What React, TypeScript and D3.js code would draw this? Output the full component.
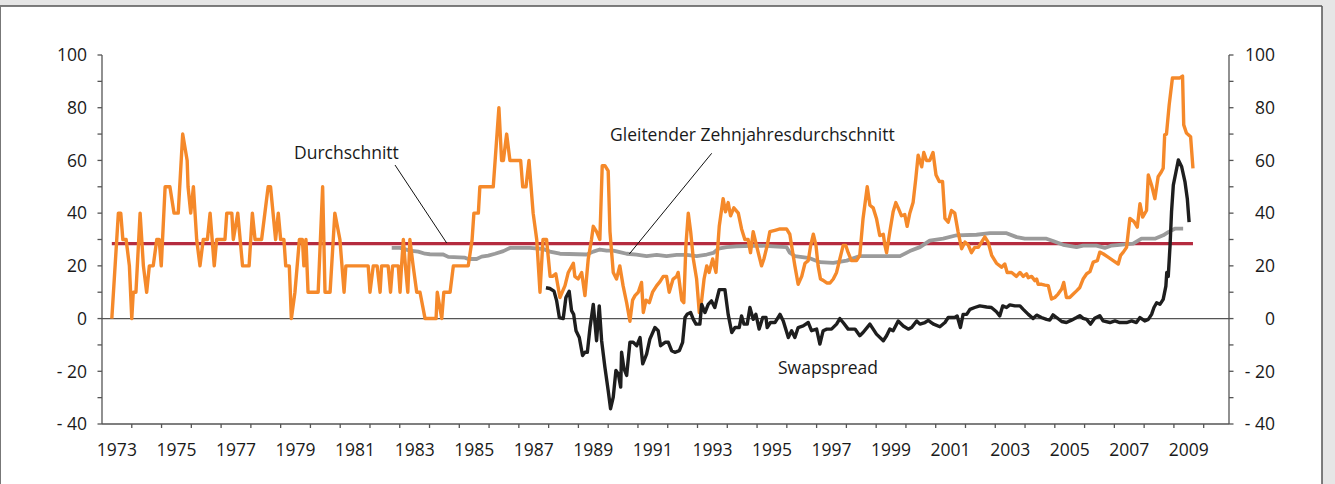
import * as d3 from 'd3';

// Orange series: [decimal year, value]
const creditSpread: [number, number][] = [
  [1973.33, 0], [1973.55, 40], [1973.63, 40], [1973.7, 30], [1973.81, 30], [1973.92, 20], [1974.0, 0],
  [1974.05, 10], [1974.14, 10], [1974.28, 40], [1974.39, 20], [1974.5, 10], [1974.59, 20], [1974.72, 20],
  [1974.84, 30], [1974.92, 30], [1974.99, 20], [1975.12, 50], [1975.28, 50], [1975.42, 40], [1975.56, 40],
  [1975.71, 70], [1975.86, 60], [1975.89, 50], [1975.98, 40], [1976.07, 50], [1976.18, 30], [1976.29, 20],
  [1976.4, 30], [1976.54, 30], [1976.63, 40], [1976.77, 20], [1976.85, 30], [1977.13, 30], [1977.19, 40],
  [1977.36, 40], [1977.41, 30], [1977.56, 40], [1977.72, 20], [1977.94, 20], [1978.05, 40], [1978.14, 30],
  [1978.36, 30], [1978.58, 50], [1978.66, 50], [1978.83, 30], [1978.92, 40], [1979.0, 30], [1979.11, 30],
  [1979.17, 20], [1979.29, 20], [1979.36, 0], [1979.48, 10], [1979.63, 30], [1979.73, 30], [1979.78, 20],
  [1979.85, 30], [1979.92, 10], [1980.26, 10], [1980.41, 50], [1980.49, 10], [1980.66, 10], [1980.82, 40],
  [1980.99, 30], [1981.13, 10], [1981.19, 20], [1981.94, 20], [1982.0, 10], [1982.11, 20], [1982.24, 20],
  [1982.34, 10], [1982.39, 20], [1982.61, 20], [1982.69, 10], [1982.76, 20], [1982.95, 20], [1983.01, 10],
  [1983.06, 20], [1983.12, 30], [1983.19, 20], [1983.27, 10], [1983.34, 30], [1983.45, 20], [1983.57, 10],
  [1983.68, 10], [1983.85, 0], [1984.22, 0], [1984.26, 10], [1984.41, 0], [1984.48, 10], [1984.69, 10],
  [1984.8, 20], [1985.3, 20], [1985.43, 30], [1985.49, 40], [1985.64, 40], [1985.69, 50], [1986.14, 50],
  [1986.33, 80], [1986.42, 60], [1986.48, 60], [1986.59, 70], [1986.7, 60], [1987.06, 60], [1987.13, 50],
  [1987.24, 50], [1987.34, 60], [1987.48, 40], [1987.6, 30], [1987.71, 10], [1987.81, 30], [1987.93, 30],
  [1988.05, 16], [1988.13, 16], [1988.24, 17], [1988.38, 8], [1988.55, 12.5], [1988.66, 17.5], [1988.83, 21],
  [1988.88, 16], [1988.99, 15], [1989.11, 17.5], [1989.22, 8.7], [1989.33, 22.6], [1989.44, 30], [1989.5, 35],
  [1989.61, 33], [1989.72, 30], [1989.8, 58], [1989.89, 58], [1990.0, 56], [1990.06, 33], [1990.17, 17.5],
  [1990.28, 15], [1990.39, 20], [1990.5, 12.5], [1990.62, 6], [1990.73, -1], [1990.82, 7], [1990.9, 8.7],
  [1991.01, 10], [1991.12, 13.7], [1991.18, 2.3], [1991.27, 7], [1991.38, 6], [1991.49, 10], [1991.63, 12.5],
  [1991.74, 14], [1991.85, 16], [1991.96, 16], [1992.05, 10], [1992.18, 15], [1992.3, 16], [1992.35, 17.5],
  [1992.47, 7], [1992.54, 6], [1992.61, 27.7], [1992.69, 40], [1992.77, 33], [1992.86, 22.6], [1992.97, 15],
  [1993.06, 2.3], [1993.14, 7], [1993.22, 15], [1993.31, 20], [1993.39, 17.5], [1993.51, 22.6], [1993.62, 17.5],
  [1993.73, 35], [1993.86, 45.5], [1993.94, 40.5], [1994.03, 44], [1994.11, 39], [1994.22, 42], [1994.37, 40],
  [1994.48, 34], [1994.59, 30], [1994.7, 30], [1994.78, 25], [1994.87, 33], [1995.04, 25], [1995.15, 20],
  [1995.23, 22.6], [1995.34, 27.7], [1995.43, 33], [1995.6, 33.5], [1995.77, 34], [1995.99, 34], [1996.1, 32],
  [1996.16, 27.7], [1996.27, 20], [1996.38, 13], [1996.5, 16], [1996.61, 21], [1996.72, 22], [1996.8, 27.7],
  [1996.89, 32], [1996.98, 27.7], [1997.05, 20], [1997.13, 15], [1997.22, 14.5], [1997.34, 13.5], [1997.45, 13.5],
  [1997.56, 15], [1997.67, 17.5], [1997.78, 22.6], [1997.89, 27.7], [1997.98, 27.7], [1998.06, 25], [1998.17, 22],
  [1998.34, 22], [1998.45, 24], [1998.56, 38], [1998.7, 50], [1998.79, 43], [1998.9, 42], [1999.01, 38],
  [1999.12, 31.5], [1999.24, 32], [1999.29, 28], [1999.35, 25], [1999.46, 33], [1999.57, 40.5], [1999.66, 44],
  [1999.74, 42], [1999.85, 39], [1999.96, 39.5], [2000.04, 35], [2000.13, 40], [2000.24, 44], [2000.33, 53],
  [2000.41, 62], [2000.53, 57.6], [2000.6, 63], [2000.69, 60], [2000.8, 60], [2000.91, 63], [2001.01, 54.5],
  [2001.12, 52], [2001.23, 52], [2001.31, 38], [2001.42, 36.6], [2001.53, 41], [2001.64, 40], [2001.75, 33],
  [2001.87, 26.5], [2001.98, 29], [2002.09, 28], [2002.2, 25], [2002.31, 27], [2002.43, 27], [2002.54, 29],
  [2002.65, 31], [2002.76, 29], [2002.88, 24], [2003.04, 21], [2003.21, 19.5], [2003.32, 20.7], [2003.4, 17.5],
  [2003.55, 17.5], [2003.71, 16], [2003.83, 17.5], [2003.94, 16], [2004.05, 17], [2004.11, 15.5], [2004.22, 16],
  [2004.33, 14.4], [2004.39, 15], [2004.44, 13], [2004.56, 13], [2004.67, 12.7], [2004.78, 12.5], [2004.89, 7.4],
  [2005.0, 8], [2005.11, 9.3], [2005.23, 11.2], [2005.3, 13.7], [2005.39, 8], [2005.5, 8], [2005.62, 9.3],
  [2005.73, 10.5], [2005.84, 11.8], [2005.95, 15], [2006.07, 17], [2006.18, 17.8], [2006.29, 21.4], [2006.43, 22],
  [2006.51, 25.2], [2006.62, 24.6], [2006.79, 23.3], [2006.96, 22], [2007.13, 20.7], [2007.21, 24], [2007.3, 25.2],
  [2007.41, 27], [2007.52, 38], [2007.66, 36.8], [2007.77, 34.7], [2007.86, 43.6], [2007.95, 38.5], [2008.08, 41],
  [2008.14, 54.5], [2008.25, 50.6], [2008.36, 45.5], [2008.47, 53.8], [2008.58, 55.7], [2008.64, 57], [2008.69, 69.7],
  [2008.75, 70], [2008.84, 81], [2008.95, 91.3], [2009.09, 91.3], [2009.2, 91.3], [2009.29, 92], [2009.33, 73.5],
  [2009.42, 70.4], [2009.56, 69], [2009.64, 57],
];

// Swapspread (black)
const swapSpread: [number, number][] = [
  [1987.91, 11.7], [1988.04, 11.4], [1988.18, 10.4], [1988.27, 6.7], [1988.36, 0.4], [1988.49, 0], [1988.58, 8],
  [1988.69, 10.4], [1988.77, 3], [1988.84, 1.6], [1988.92, -4.6], [1989.03, -7.2], [1989.14, -14], [1989.22, -12.8],
  [1989.3, -12.8], [1989.39, -3.4], [1989.5, 5.4], [1989.61, -8.4], [1989.7, 4.8], [1989.78, -8.4], [1989.89, -18.5],
  [1990.0, -27.3], [1990.08, -34.2], [1990.17, -29.8], [1990.26, -19.7], [1990.34, -21], [1990.42, -26], [1990.45, -12.8],
  [1990.53, -19], [1990.62, -21.6], [1990.73, -9], [1990.84, -9], [1990.96, -10.3], [1991.07, -7.2], [1991.16, -17.2],
  [1991.29, -13.5], [1991.4, -7.8], [1991.57, -3.4], [1991.68, -4.6], [1991.76, -10.3], [1991.91, -9], [1992.02, -9],
  [1992.13, -12.2], [1992.24, -12.8], [1992.39, -12.2], [1992.5, -9], [1992.58, 0.4], [1992.65, 1.6], [1992.77, 2.3],
  [1992.86, -0.3], [1992.95, -2.1], [1993.08, -2.1], [1993.14, 5.4], [1993.25, 2.3], [1993.36, 5.4], [1993.47, 6.7],
  [1993.58, 4.2], [1993.73, 11], [1993.92, 11], [1994.03, 1.6], [1994.15, -5.3], [1994.26, -3.4], [1994.4, -3.4],
  [1994.48, 1], [1994.56, -2.1], [1994.67, -2.1], [1994.76, 4.2], [1994.87, -0.3], [1994.96, 1.6], [1995.07, -4],
  [1995.19, 0.4], [1995.3, 0.4], [1995.34, -3.4], [1995.45, -1.5], [1995.6, -1.5], [1995.77, 1.6], [1995.88, -0.9],
  [1996.05, -7.2], [1996.16, -4.6], [1996.27, -7.2], [1996.38, -3.4], [1996.55, -2.8], [1996.72, -1.5], [1996.83, -4.6],
  [1997.0, -4], [1997.11, -9.7], [1997.22, -4.6], [1997.34, -4], [1997.5, -4], [1997.67, -2.1], [1997.78, 0],
  [1997.89, -1.5], [1998.06, -4], [1998.29, -4], [1998.45, -6.5], [1998.56, -5.3], [1998.79, -2.1], [1999.01, -5.9],
  [1999.24, -8.4], [1999.35, -6.5], [1999.46, -4], [1999.57, -4.6], [1999.74, -0.9], [1999.91, -2.8], [2000.08, -4],
  [2000.19, -3.4], [2000.36, -0.9], [2000.47, -2.1], [2000.64, -1.5], [2000.75, -0.7], [2000.91, -2], [2001.14, -3.1],
  [2001.31, -1.5], [2001.42, 0.4], [2001.64, 0.4], [2001.72, 1], [2001.83, -3.4], [2001.92, 1.6], [2002.04, 1.6],
  [2002.15, 3.5], [2002.31, 4.2], [2002.48, 4.8], [2002.71, 4.4], [2002.87, 4.2], [2003.04, 2.6], [2003.15, 1],
  [2003.25, 4.8], [2003.38, 4.2], [2003.49, 5.2], [2003.66, 4.8], [2003.83, 4.8], [2003.94, 3.5], [2004.11, 1.6],
  [2004.27, 0], [2004.39, 1.3], [2004.55, 0.4], [2004.72, -0.3], [2004.83, -0.6], [2004.94, 1.4], [2005.06, 0.4],
  [2005.23, -1.1], [2005.39, -1.5], [2005.56, -0.6], [2005.73, 0.4], [2005.84, 1.1], [2005.95, 0.1], [2006.07, -0.3],
  [2006.2, -2.1], [2006.34, 0.1], [2006.51, 1.1], [2006.62, -0.9], [2006.85, -1.5], [2007.02, -0.9], [2007.18, -1.5],
  [2007.41, -1.5], [2007.58, -0.9], [2007.74, -1.5], [2007.86, 0.4], [2008.02, -0.9], [2008.14, -0.3], [2008.25, 1.6],
  [2008.33, 4.2], [2008.42, 6], [2008.53, 5.4], [2008.64, 7.3], [2008.73, 12.3], [2008.76, 17.5], [2008.81, 16],
  [2008.87, 27.7], [2008.92, 40.5], [2008.98, 50.6], [2009.07, 55.7], [2009.15, 60.2], [2009.26, 57.6], [2009.37, 52],
  [2009.45, 45.5], [2009.51, 36.6],
];

// Gleitender Zehnjahresdurchschnitt (grey)
const movingAverage: [number, number][] = [
  [1982.73, 26.8], [1983.01, 26.8], [1983.34, 25.8], [1983.62, 25.4], [1983.85, 24.6], [1984.01, 24.4], [1984.46, 24.3],
  [1984.63, 23.4], [1985.19, 23.1], [1985.3, 22.6], [1985.58, 22.6], [1985.75, 23.5], [1985.97, 23.9], [1986.2, 24.6],
  [1986.48, 25.6], [1986.7, 26.8], [1987.37, 26.8], [1987.82, 26.4], [1988.04, 25.4], [1988.38, 24.6], [1989.28, 24.3],
  [1989.5, 25.4], [1989.72, 26.2], [1989.95, 25.8], [1990.17, 25.8], [1990.39, 25.2], [1990.62, 24.6], [1990.95, 24.3],
  [1991.29, 23.7], [1991.63, 24.2], [1991.96, 23.7], [1992.3, 24.2], [1992.63, 24.2], [1992.97, 23.7], [1993.31, 24.3],
  [1993.53, 24.9], [1993.7, 26.5], [1993.98, 27.1], [1994.31, 27.4], [1995.1, 27.7], [1995.54, 27.4], [1995.99, 27.1],
  [1996.1, 25], [1996.27, 23.7], [1996.77, 22.9], [1997.11, 21.4], [1997.56, 21.1], [1998.01, 22], [1998.45, 23.7],
  [1999.8, 23.7], [2000.13, 25.6], [2000.47, 27.1], [2000.8, 29.6], [2001.25, 30.3], [2001.7, 31.6], [2002.37, 31.8],
  [2002.82, 32.4], [2003.38, 32.4], [2003.72, 30.9], [2003.99, 30.3], [2004.72, 30.3], [2004.94, 29.4], [2005.28, 28],
  [2005.73, 27.1], [2005.95, 27.7], [2006.4, 27.7], [2006.68, 26.8], [2006.91, 27.7], [2007.18, 28], [2007.63, 28.4],
  [2007.91, 30.3], [2008.36, 30.3], [2008.64, 31.6], [2008.81, 32.8], [2009.03, 34.1], [2009.31, 34.1],
];

// Durchschnitt (red)
const overallAverage = 28.4;
const averageSpan = [1973.33, 2009.64];

const yTicksMajor = [-40, -20, 0, 20, 40, 60, 80, 100];
const yTicksMinor = [-30, -10, 10, 30, 50, 70, 90];
const yearLabels = d3.range(1973, 2010, 2);
const yearTicks = d3.range(1974, 2011);

const W = 1335;
const H = 484;
const FONT = "'Open Sans', sans-serif";
const TEXT = '#1a1a1a';
const AXIS = '#555';

export default function App() {
  const x = d3.scaleLinear().domain([1973, 2010.85]).range([102, 1229]);
  const y = d3.scaleLinear().domain([-40, 100]).range([424, 55]);
  const line = d3.line<[number, number]>()
    .x((d) => x(d[0]))
    .y((d) => y(d[1]));

  const fmt = (v: number) => (v < 0 ? `- ${Math.abs(v)}` : `${v}`);

  return (
    <div style={{ position: 'absolute', left: 0, top: 0 }}>
      <svg width={W} height={H} style={{ display: 'block', fontFamily: FONT }}>
        {/* frame */}
        <rect x={0} y={0} width={W} height={H} fill="#e6e6e6" />
        <rect x={0} y={6} width={1322} height={H - 6} fill="#fff" />
        <line x1={0} x2={1322} y1={6} y2={6} stroke={AXIS} strokeWidth={1.5} />
        <line x1={1322} x2={1322} y1={6} y2={H} stroke={AXIS} strokeWidth={1.5} />
        <line x1={0.5} x2={0.5} y1={6} y2={H} stroke="#777" strokeWidth={1} />

        {/* zero line */}
        <line x1={x.range()[0]} x2={x.range()[1]} y1={y(0)} y2={y(0)} stroke={AXIS} strokeWidth={1.2} />

        {/* axes */}
        <g stroke={AXIS} strokeWidth={1.3}>
          <line x1={102} x2={102} y1={y(100)} y2={y(-40)} />
          <line x1={1229} x2={1229} y1={y(100)} y2={y(-40)} />
          <line x1={102} x2={1229} y1={y(-40)} y2={y(-40)} />
          {[...yTicksMajor, ...yTicksMinor].map((t) => (
            <g key={t}>
              <line x1={97.5} x2={102} y1={y(t)} y2={y(t)} />
              <line x1={1229} x2={1233.5} y1={y(t)} y2={y(t)} />
            </g>
          ))}
          {yearTicks.map((t) => (
            <line key={t} x1={x(t)} x2={x(t)} y1={y(-40)} y2={y(-40) + 4} />
          ))}
        </g>

        {yTicksMajor.map((t) => (
          <g key={t} fontSize={17.5} fill={TEXT} textAnchor="end">
            <text x={87} y={y(t)} dy="0.36em">{fmt(t)}</text>
            <text x={1275} y={y(t)} dy="0.36em">{fmt(t)}</text>
          </g>
        ))}
        {yearLabels.map((yr) => (
          <text key={yr} x={x(yr + 0.5)} y={456} fontSize={17.5} fill={TEXT} textAnchor="middle">{yr}</text>
        ))}

        {/* series */}
        <line
          x1={x(averageSpan[0])} x2={x(averageSpan[1])}
          y1={y(overallAverage)} y2={y(overallAverage)}
          stroke="#b52b3f" strokeWidth={3.3}
        />
        <path d={line(movingAverage) ?? ''} fill="none" stroke="#9b9b9b" strokeWidth={3.8} strokeLinejoin="round" />
        <path d={line(creditSpread) ?? ''} fill="none" stroke="#f5892a" strokeWidth={3.4} strokeLinejoin="round" />
        <path d={line(swapSpread) ?? ''} fill="none" stroke="#1e1e1e" strokeWidth={3.4} strokeLinejoin="round" />

        {/* annotations */}
        <g stroke="#111" strokeWidth={1}>
          <line x1={395} y1={165} x2={446.7} y2={243} />
          <line x1={711.7} y1={153.3} x2={629.3} y2={254} />
        </g>
        <g fontSize={17.5} fill={TEXT}>
          <text x={294} y={159}>Durchschnitt</text>
          <text x={610} y={141}>Gleitender Zehnjahresdurchschnitt</text>
          <text x={778} y={374}>Swapspread</text>
        </g>
      </svg>
    </div>
  );
}
